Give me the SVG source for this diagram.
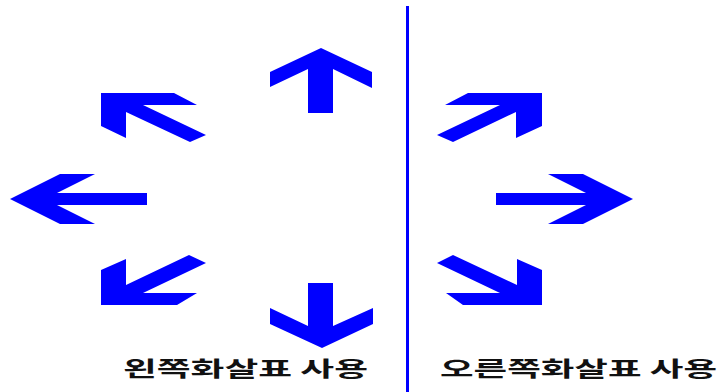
<svg xmlns="http://www.w3.org/2000/svg" width="719" height="392" viewBox="0 0 719 392">
<style>
.arrow{fill:#0000ff;stroke:none}
.lbl{font-family:"Noto Sans CJK KR","Noto Sans",sans-serif;font-size:21px;font-weight:bold;fill:#111}
.divider{stroke:#0000ff;stroke-width:3}
</style>
<rect width="719" height="392" fill="#ffffff"/>
<g id="connectors">
<line class="divider" x1="407.5" y1="6" x2="407.5" y2="392"/>
</g>
<g id="arrow-up"><polygon class="arrow" points="321,48 372,72 372,88 333,69 333,113 308,113 308,69 270,87 270,72"/></g>
<g id="arrow-up-left"><polygon class="arrow" points="101,93 174,93 197,105 143,105 206,135 190,142 126,112 126,138 101,126"/></g>
<g id="arrow-left"><polygon class="arrow" points="10,199 60,174 95,174 57,193 147,193 147,205 57,205 95,224 60,224"/></g>
<g id="arrow-down-left"><polygon class="arrow" points="101,305 177,305 197,293 143,293 206,263 189,255 126,285 126,259 101,270"/></g>
<g id="arrow-down"><polygon class="arrow" points="308,283 333,283 333,326 373,308 373,324 322,348 270,324 270,308 308,326"/></g>
<g id="arrow-up-right"><polygon class="arrow" points="542,93 468,93 445,105 500,105 437,135 453,142 516,112 516,138 542,126"/></g>
<g id="arrow-right"><polygon class="arrow" points="633,199 583,174 548,174 586,193 496,193 496,205 586,205 548,224 583,224"/></g>
<g id="arrow-down-right"><polygon class="arrow" points="542,305 463,305 446,293 500,293 437,263 453,255 517,285 517,259 542,270"/></g>
<g id="label-left"><text class="lbl" x="123" y="376" textLength="245" lengthAdjust="spacingAndGlyphs">왼쪽화살표 사용</text></g>
<g id="label-right"><text class="lbl" x="440" y="376" textLength="277" lengthAdjust="spacingAndGlyphs">오른쪽화살표 사용</text></g>
</svg>
